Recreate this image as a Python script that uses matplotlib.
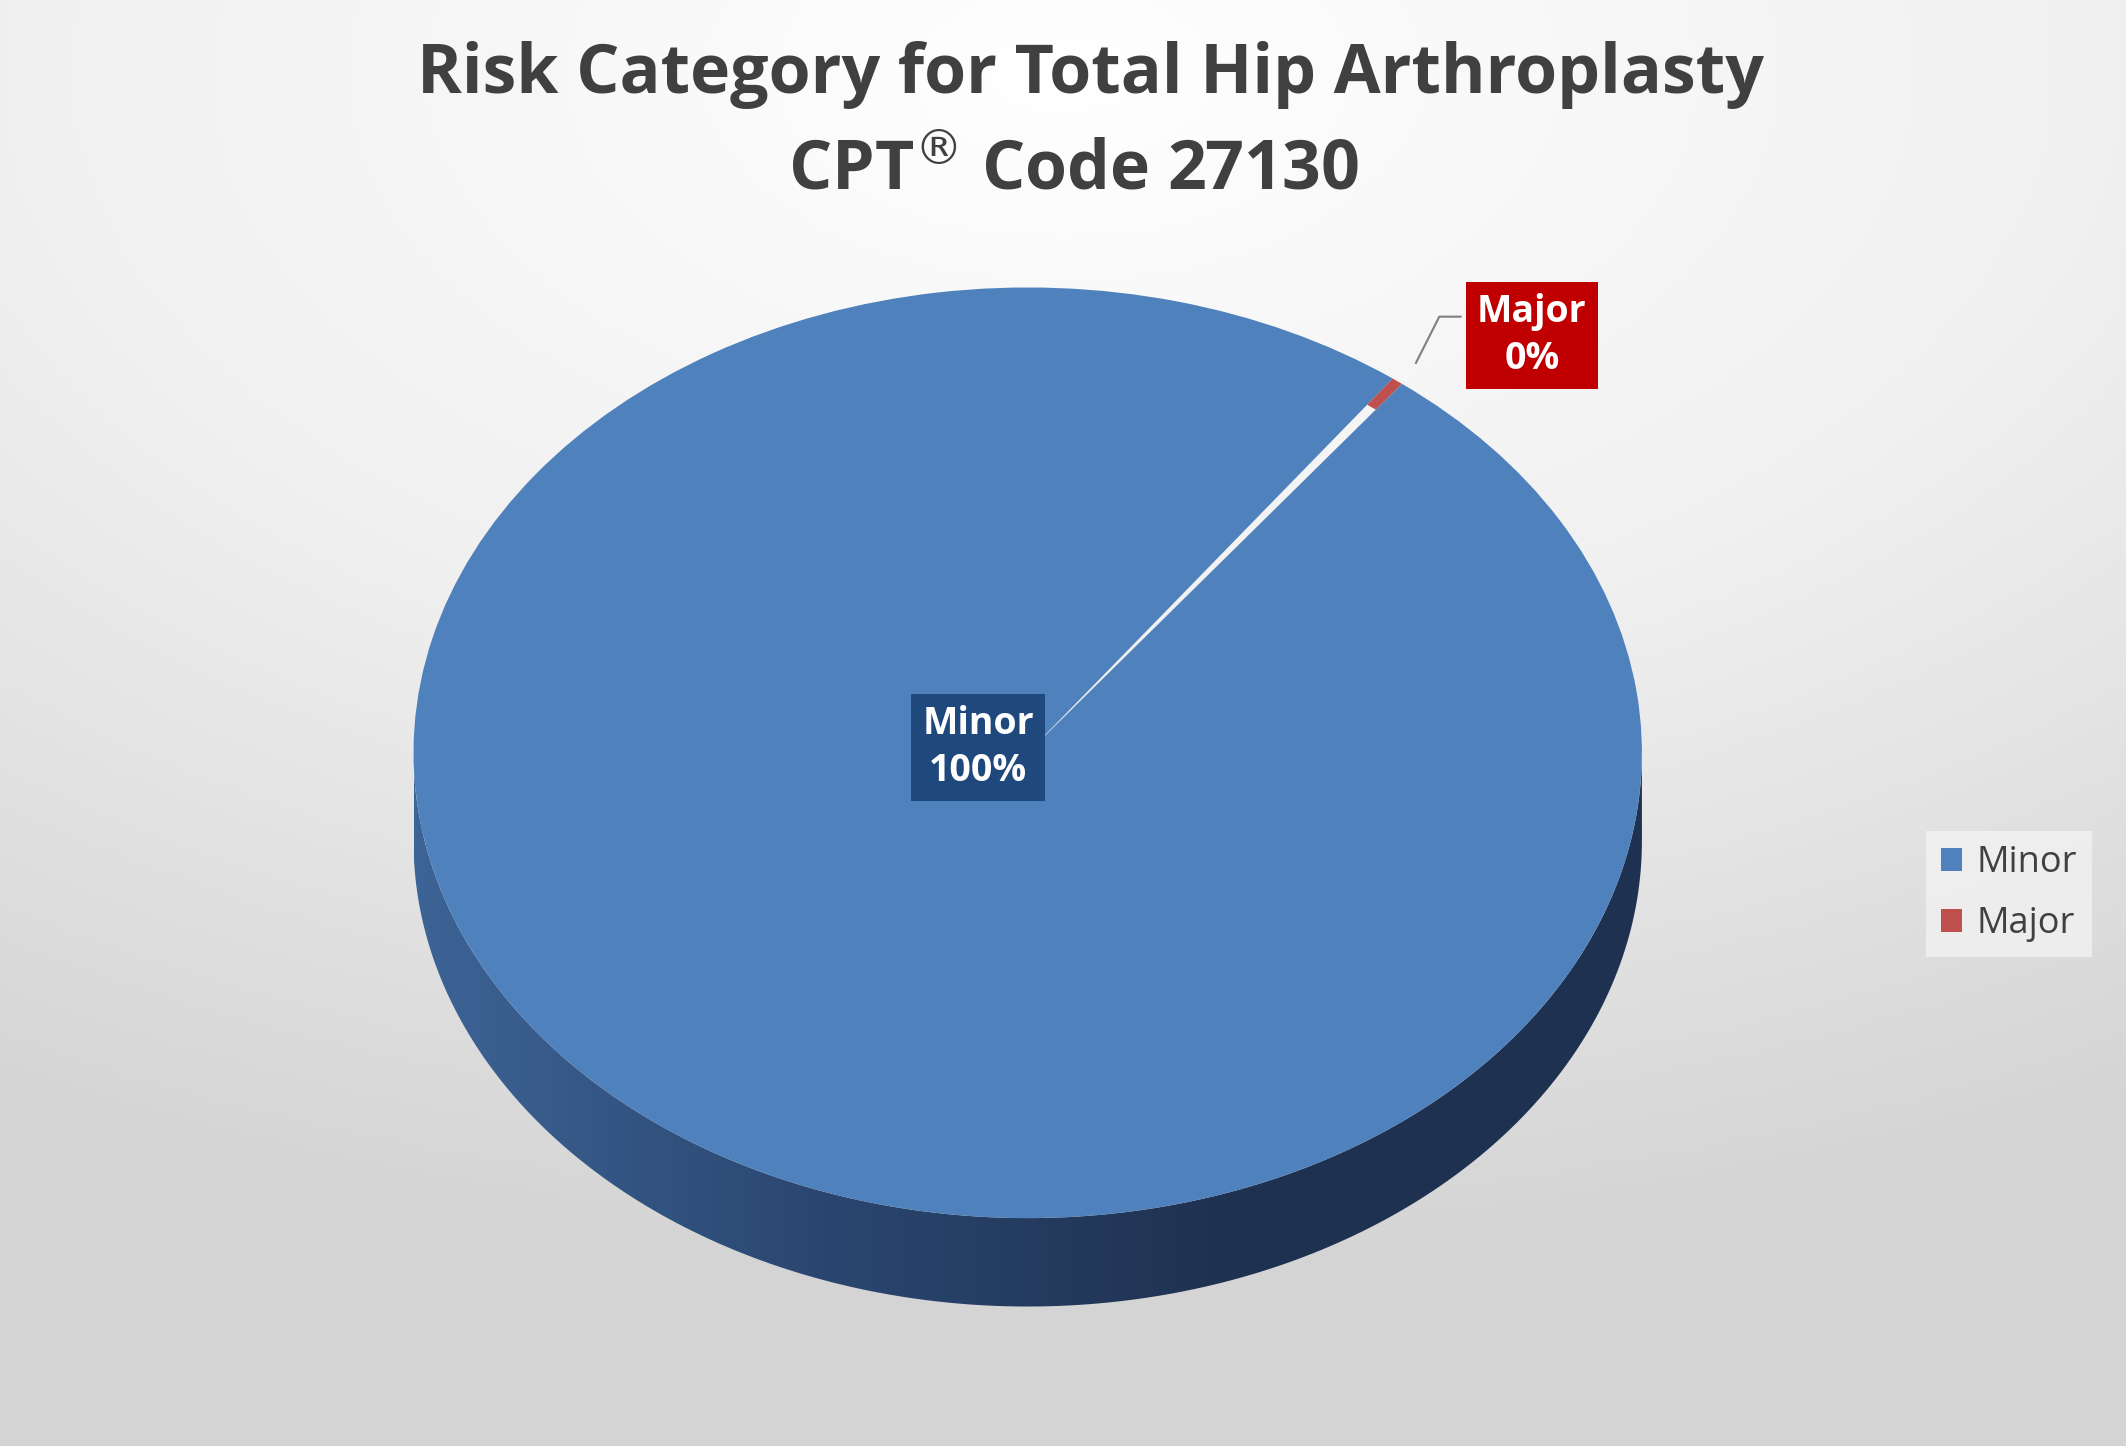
import matplotlib
matplotlib.use("Agg")
import matplotlib.pyplot as plt
import numpy as np
from matplotlib.patches import Polygon
from matplotlib.colors import LinearSegmentedColormap

categories = ["Minor", "Major"]
values = [99.7, 0.3]
pct_labels = ["100%", "0%"]
colors = ["#4F81BD", "#C0504D"]

fig = plt.figure(figsize=(21.26, 14.46), dpi=100)

# background radial gradient
bg = fig.add_axes([0, 0, 1, 1])
yy, xx = np.mgrid[0:1:300j, 0:1:300j]
r = np.sqrt((xx - 0.5) ** 2 + ((yy - 0.05) * 1.2) ** 2)
bg.imshow(r, cmap=LinearSegmentedColormap.from_list("bg", ["#ffffff", "#f0f0f0", "#d4d4d4"]),
          extent=[0, 1, 0, 1], aspect="auto", vmin=0, vmax=1.0)
bg.axis("off")

# pie (ellipse top + extruded side)
cx, cy, hw, hh = 0.4834, 0.4794, 0.2889, 0.3218
ax = fig.add_axes([cx - 1.05 * hw, cy - 1.3 * hh, 2.1 * hw, 2.35 * hh])
ax.axis("off")

d = 0.19
t = np.linspace(np.pi, 2 * np.pi, 200)
pts = np.concatenate([np.c_[np.cos(t), np.sin(t)], np.c_[np.cos(t[::-1]), np.sin(t[::-1]) - d]])
side = Polygon(pts, closed=True, facecolor="none", edgecolor="none")
ax.add_patch(side)
grad = np.tile(np.linspace(0, 1, 256), (10, 1))
im = ax.imshow(grad, cmap=LinearSegmentedColormap.from_list("sd", ["#3d6496", "#2a4670", "#1f3150", "#1f3150"]),
               extent=[-1, 1, -1 - d, 0], aspect="auto", zorder=1)
im.set_clip_path(side)

start = 53 + values[1] * 3.6 / 2
wedges, _ = ax.pie(values, colors=colors, startangle=start, radius=1, counterclock=True,
                   wedgeprops=dict(linewidth=0), frame=False)
wedges[1].set_width(0.07)
ax.set_aspect("auto")
ax.set_xlim(-1.05, 1.05)
ax.set_ylim(-1.3, 1.05)

title_kw = dict(ha="center", va="center", fontsize=49, fontweight="bold", color="#404040", family="Open Sans")
fig.text(0.513, 0.948, "Risk Category for Total Hip Arthroplasty", **title_kw)
fig.text(0.505, 0.881, r"CPT$^{\circledR}$ Code 27130", **title_kw)

lab_kw = dict(ha="center", va="center", fontsize=27, fontweight="bold", color="white",
              family="Open Sans", linespacing=1.3)
fig.text(0.46, 0.483, f"{categories[0]}\n{pct_labels[0]}", **lab_kw,
         bbox=dict(boxstyle="square,pad=0.3", fc="#1F497D", ec="none"))
fig.text(0.7205, 0.768, f"{categories[1]}\n{pct_labels[1]}", **lab_kw,
         bbox=dict(boxstyle="square,pad=0.3", fc="#C00000", ec="none"))
fig.add_artist(plt.Line2D([0.687, 0.677, 0.666], [0.781, 0.781, 0.749],
                          color="#7f7f7f", lw=1.5, transform=fig.transFigure))

handles = [plt.Rectangle((0, 0), 1, 1, fc=c) for c in colors]
leg = fig.legend(handles, categories, loc="center", bbox_to_anchor=(0.945, 0.382),
                 frameon=True, handlelength=0.6, handleheight=0.6, fancybox=False,
                 labelspacing=0.7, handletextpad=0.4, prop=dict(family="Open Sans", size=26))
leg.get_frame().set_facecolor("#f2f2f2")
leg.get_frame().set_edgecolor("none")
for tx in leg.get_texts():
    tx.set_color("#404040")

fig.savefig("out.png", dpi=100)
